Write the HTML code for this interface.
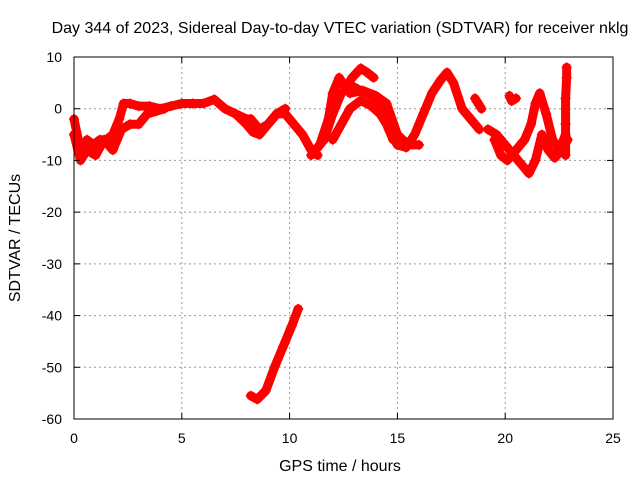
<!DOCTYPE html>
<html><head><meta charset="utf-8"><style>
body{margin:0;background:#fff}
svg text{font-family:"Liberation Sans",sans-serif;fill:#000}
</style></head><body>
<svg width="640" height="480">
<rect width="640" height="480" fill="#fff"/>
<g id="grid"></g>
<g id="series"></g>
<rect x="74" y="57" width="539" height="362" fill="none" stroke="#000"/>
<g id="ticks"></g>
<text x="340" y="33" font-size="16" text-anchor="middle">Day 344 of 2023, Sidereal Day-to-day VTEC variation (SDTVAR) for receiver nklg</text>
<text x="340" y="471" font-size="16" text-anchor="middle">GPS time / hours</text>
<text x="20" y="238" font-size="16" text-anchor="middle" transform="rotate(-90 20 238)">SDTVAR / TECUs</text>
</svg>
<script>
const xTicks=[0,5,10,15,20,25];
const yTicks=[10,0,-10,-20,-30,-40,-50,-60];
const t1=[0,0.2,0.4,0.6,0.9,1.2,1.5,1.8,2.1,2.3,2.6,3,3.5,4,4.5,5,5.5,6,6.5,7,7.5,8,8.2,8.6,9,9.4,9.8,10.2,10.6,11,11.3];
const v1=[-2,-6,-8,-6,-7,-6,-6,-5,-2,1,1,0.5,0.5,0,0.5,1,1,1,1.8,0,-1,-2,-2,-4,-3,-1,-1,-3,-5,-8,-9];
const t2=[0,0.3,0.6,1,1.4,1.8,2.2,2.6,3,3.4,3.8,4.2];
const v2=[-5,-10,-8,-9,-6,-8,-4,-3,-3,-1,-0.5,0];
const t3=[7.5,8,8.3,8.6,9,9.4,9.8];
const v3=[-1,-3,-4.5,-5,-3,-1,0];
const t4=[11,11.4,11.8,12,12.3,12.6,12.9,13.3,13.6,13.9];
const v4=[-9,-7,-2,3,6,4,6,7.8,7,6];
const t5=[11.2,11.6,12,12.4,12.8,13.3,13.8,14.2,14.6,15,15.4,15.8,16.2,16.6,17,17.3,17.6,18,18.4,18.8];
const v5=[-8,-6,-1,3,4.6,3.5,2.5,0.5,-4,-7,-7.5,-5,-1,3,5.5,7,5,0,-2,-4];
const t6=[12,12.4,12.8,13.3,13.8,14.2,14.5,14.8];
const v6=[-6,-3,0,1.6,0.5,-1,-3,-6];
const t7=[12.8,13.4,14,14.5,15,15.5,16];
const v7=[3,3.5,2.5,1,-5,-7,-7];
const t8=[19.2,19.6,20,20.4,20.8,21.1,21.4,21.7,22,22.3,22.6,22.9];
const v8=[-4,-5,-7,-9,-11,-12.5,-10,-5,-8,-9.5,-8,-6];
const t9=[19.5,19.8,20.1,20.5,20.9,21.2,21.4,21.6,21.9,22.2,22.5,22.8];
const v9=[-6,-9,-10,-8,-6,-3,1,3,-1,-6,-8,-5];
const t10=[20.2,20.3,20.5];
const v10=[2.5,1.5,2];
const t11=[22.8,22.8,22.8,22.85,22.85];
const v11=[-9,-3,2,6,8];
const t12=[8.2,8.5,8.9,9.3,9.7,10.1,10.4];
const v12=[-55.5,-56.2,-54.5,-50,-46,-42,-38.7];
const t13=[18.6,18.9];
const v13=[2,0];
const traces=[[t1,v1],[t2,v2],[t3,v3],[t4,v4],[t5,v5],[t6,v6],[t7,v7],[t8,v8],[t9,v9],[t10,v10],[t11,v11],[t12,v12],[t13,v13]];
const X=t=>74+t*539/25, Y=v=>57+(10-v)*362/70;
const NS="http://www.w3.org/2000/svg";
const grid=document.getElementById('grid'),ticks=document.getElementById('ticks'),ser=document.getElementById('series');
function mk(tag,at,p){const e=document.createElementNS(NS,tag);for(const k in at)e.setAttribute(k,at[k]);p.appendChild(e);return e;}
xTicks.forEach(t=>{const x=X(t);
 if(t>0&&t<25){const g=mk('line',{x1:x,x2:x,y1:57,y2:419,stroke:'#999','stroke-dasharray':'2,3'},grid);
 
 }
 const l=mk('line',{x1:x,x2:x,y1:419,y2:413,stroke:'#000'},ticks);
 
 
 const l2=mk('line',{x1:x,x2:x,y1:57,y2:63,stroke:'#000'},ticks);
 
 
 const tx=mk('text',{x:x,y:443,'font-size':14,'text-anchor':'middle'},ticks);tx.textContent=t;
 
 });
yTicks.forEach(v=>{const y=Y(v);
 if(v<10&&v>-60){const g=mk('line',{x1:74,x2:613,y1:y,y2:y,stroke:'#999','stroke-dasharray':'2,3'},grid);
 
 }
 const l=mk('line',{x1:74,x2:80,y1:y,y2:y,stroke:'#000'},ticks);
 
 
 const l2=mk('line',{x1:607,x2:613,y1:y,y2:y,stroke:'#000'},ticks);
 
 
 const tx=mk('text',{x:62,y:y+5,'font-size':14,'text-anchor':'end'},ticks);tx.textContent=v;
 
 });
traces.forEach(([ts,vs])=>{
 const pts=ts.map((t,i)=>X(t)+','+Y(vs[i])).join(' ');
 const pl=mk('polyline',{points:pts,fill:'none',stroke:'#f00','stroke-width':9,'stroke-linejoin':'round','stroke-linecap':'round'},ser);
 
 
 ts.forEach((t,i)=>{const x=X(t),y=Y(vs[i]);
  const m=mk('path',{d:`M${x-5},${y}h10M${x},${y-5}v10`,stroke:'#f00','stroke-width':1.5},ser);
  
  });
});
</script>
</body></html>
